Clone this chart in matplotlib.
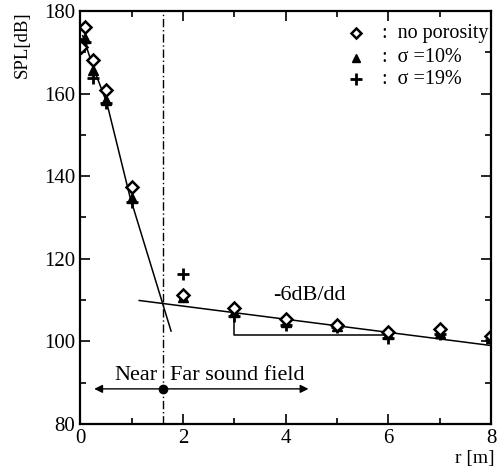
import matplotlib.pyplot as plt

plt.rcParams['font.family'] = ['Liberation Serif', 'DejaVu Serif']

# ---- data ----
r = [0.02, 0.1, 0.25, 0.5, 1.0, 2, 3, 4, 5, 6, 7, 8]
spl_none = [171.3, 176.1, 168.1, 160.9, 137.4, 111.2, 108.2, 105.3, 104.0, 102.3, 103.0, 101.3]
spl_10 = [172.2, 173.5, 165.7, 158.5, 134.7, 110.8, 107.0, 104.6, 103.8, 101.8, 102.0, 100.8]
spl_19 = [171.8, 172.5, 163.8, 157.7, 133.8, 116.2, 106.2, 104.0, 103.5, 100.8, 101.8, 100.3]

near_r = [0.05, 0.25, 0.52, 0.97, 1.77]
near_spl = [174.0, 166.5, 157.7, 135.0, 102.5]
far_r = [1.15, 8.0]
far_spl = [109.9, 99.0]

r_boundary = 1.61
arrow_y = 88.5

fig = plt.figure(figsize=(5.01, 4.74), dpi=100)
ax = fig.add_axes([0.160, 0.1055, 0.820, 0.8715])

ax.plot(near_r, near_spl, color='black', lw=1.1)
ax.plot(far_r, far_spl, color='black', lw=1.1)
# -6dB/dd bracket
ax.plot([3, 3, 6], [106.9, 101.5, 101.5], color='black', lw=1.1)

ax.plot(r, spl_19, linestyle='none', marker='+', ms=9, mew=2, color='black')
ax.plot(r, spl_10, linestyle='none', marker='^', ms=7, color='black')
ax.plot(r, spl_none, linestyle='none', marker='D', ms=6, mfc='white', mec='black', mew=1.8)

ax.axvline(r_boundary, color='black', lw=1, linestyle=(0, (6, 2, 1, 2)))
ax.plot([r_boundary], [arrow_y], marker='o', ms=6, color='black')
ax.annotate('', xy=(0.22, arrow_y), xytext=(r_boundary, arrow_y),
            arrowprops=dict(arrowstyle='-|>', color='black', lw=1, mutation_scale=12))
ax.annotate('', xy=(4.5, arrow_y), xytext=(r_boundary, arrow_y),
            arrowprops=dict(arrowstyle='-|>', color='black', lw=1, mutation_scale=12))

ax.text(1.5, 90.7, 'Near', fontsize=16, ha='right', va='baseline')
ax.text(1.74, 90.7, 'Far sound field', fontsize=16, ha='left', va='baseline')
ax.text(4.47, 110.0, '-6dB/dd', fontsize=16, ha='center', va='baseline')

# legend
leg_x = 5.38
leg_ys = [174.6, 168.6, 163.4]
leg_marks = [dict(marker='D', ms=5, mfc='white', mec='black', mew=1.8),
             dict(marker='^', ms=6, color='black'),
             dict(marker='+', ms=8, mew=2, color='black')]
leg_text = [':  no porosity', ':  σ =10%', ':  σ =19%']
for y, m, t in zip(leg_ys, leg_marks, leg_text):
    ax.plot([leg_x], [y], linestyle='none', **m)
    ax.text(leg_x + 0.5, y, t, fontsize=14.5, va='center', ha='left')

ax.set_xlim(0, 8)
ax.set_ylim(80, 180)
ax.set_xticks([0, 2, 4, 6, 8])
ax.set_xticks([1, 3, 5, 7], minor=True)
ax.set_yticks([80, 100, 120, 140, 160, 180])
ax.set_yticks([90, 110, 130, 150, 170], minor=True)
ax.tick_params(which='both', direction='in', top=True, right=True, labelsize=15, width=1.2)
ax.tick_params(which='major', length=7)
ax.tick_params(which='minor', length=4)
for s in ax.spines.values():
    s.set_linewidth(1.6)

fig.text(0.045, 0.975, 'SPL[dB]', rotation=90, fontsize=13.5, ha='center', va='top')
fig.text(0.988, 0.015, 'r [m]', fontsize=14, ha='right', va='bottom')

fig.savefig('out.png', dpi=100)
